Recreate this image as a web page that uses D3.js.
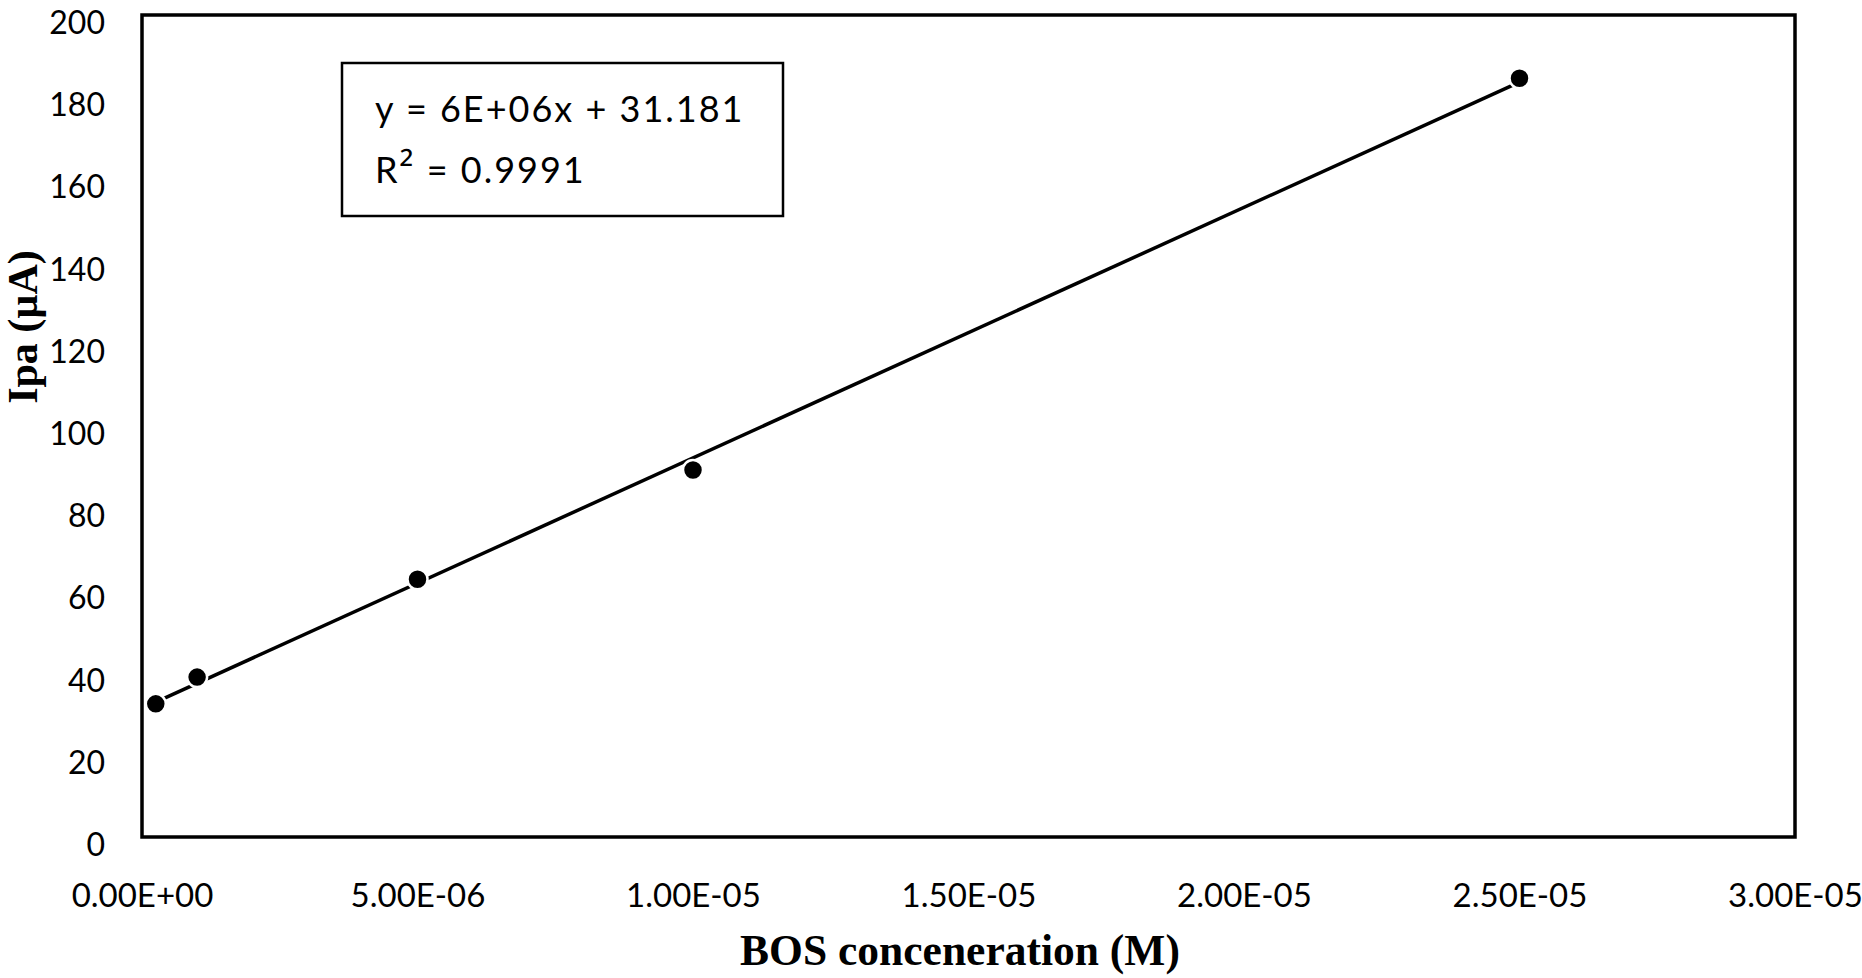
<!DOCTYPE html>
<html>
<head>
<meta charset="utf-8">
<script src="https://cdn.jsdelivr.net/npm/d3@7"></script>
<style>
  html, body { margin: 0; padding: 0; background: #fff; }
  svg { display: block; }
</style>
</head>
<body>
<svg id="chart" width="1862" height="978"></svg>
<script>
// ---- data ----
const concentration = [2.5e-7, 1e-6, 5e-6, 1e-5, 2.5e-5];
const ipa = [32.4, 38.9, 62.7, 89.3, 184.6];
const xTicks = [0, 5e-6, 1e-5, 1.5e-5, 2e-5, 2.5e-5, 3e-5];
const xTickLabels = ["0.00E+00", "5.00E-06", "1.00E-05", "1.50E-05", "2.00E-05", "2.50E-05", "3.00E-05"];
const yTicks = [0, 20, 40, 60, 80, 100, 120, 140, 160, 180, 200];
const equationLines = ["y = 6E+06x + 31.181", "R² = 0.9991"];
const xTitle = "BOS conceneration (M)";
const yTitle = "Ipa (µA)";

(function () {
// ---- layout ----
const svg = d3.select("#chart");
const pL = 142, pR = 1795, pT = 15, pB = 837;
const x = d3.scaleLinear().domain([0, 3e-5]).range([pL, pR]);
const y = d3.scaleLinear().domain([0, 200]).range([pB, pT]);

const tickFont = "Lato, 'Open Sans', sans-serif";

// Y tick labels
const yAxis = d3.axisLeft(y).tickValues(yTicks).tickSize(0).tickPadding(0).tickFormat(d3.format("d"));
const gy = svg.append("g").attr("transform", `translate(105,0)`).call(yAxis);
gy.select(".domain").remove();
gy.selectAll("text")
  .attr("font-family", tickFont).attr("font-size", 32).attr("fill", "#000")
  .attr("text-anchor", "end").attr("dy", "0.67em").attr("y", -3);

// X tick labels
const xAxis = d3.axisBottom(x).tickValues(xTicks).tickSize(0).tickPadding(0)
  .tickFormat((d, i) => xTickLabels[i]);
const gx = svg.append("g").attr("transform", `translate(0,907)`).call(xAxis);
gx.select(".domain").remove();
gx.selectAll("text")
  .attr("font-family", tickFont).attr("font-size", 33).attr("fill", "#000")
  .attr("dy", 0).attr("y", 0);

// Plot frame
svg.append("rect")
  .attr("x", pL).attr("y", pT).attr("width", pR - pL).attr("height", pB - pT)
  .attr("fill", "none").attr("stroke", "#000").attr("stroke-width", 3.5);

// Linear trendline (least squares fit of data)
const n = concentration.length;
const mx = d3.mean(concentration), my = d3.mean(ipa);
let sxy = 0, sxx = 0;
for (let i = 0; i < n; i++) {
  sxy += (concentration[i] - mx) * (ipa[i] - my);
  sxx += (concentration[i] - mx) ** 2;
}
const slope = sxy / sxx, intercept = my - slope * mx;
const xr = d3.extent(concentration);
svg.append("line")
  .attr("x1", x(xr[0])).attr("y1", y(slope * xr[0] + intercept))
  .attr("x2", x(xr[1])).attr("y2", y(slope * xr[1] + intercept))
  .attr("stroke", "#000").attr("stroke-width", 3.5);

// Markers
svg.append("g").selectAll("circle")
  .data(concentration.map((c, i) => [c, ipa[i]]))
  .join("circle")
  .attr("cx", d => x(d[0])).attr("cy", d => y(d[1]))
  .attr("r", 10).attr("fill", "#000").attr("stroke", "#fff").attr("stroke-width", 2.5);

// Equation box
svg.append("rect")
  .attr("x", 342).attr("y", 63).attr("width", 441).attr("height", 153)
  .attr("fill", "#fff").attr("stroke", "#000").attr("stroke-width", 2.5);
const eq = svg.append("g").selectAll("text")
  .data(equationLines).join("text")
  .attr("x", 375).attr("y", (d, i) => 122 + i * 61)
  .attr("font-family", tickFont).attr("font-size", 36).attr("letter-spacing", 2)
  .attr("fill", "#000");
eq.each(function (d) {
  const t = d3.select(this);
  const parts = d.split("²");
  if (parts.length === 1) { t.text(d); return; }
  t.append("tspan").text(parts[0]);
  t.append("tspan").attr("font-family", "'Open Sans', sans-serif").attr("font-size", 40).text("²");
  t.append("tspan").text(parts[1]);
});

// Axis titles
svg.append("text")
  .attr("x", 960).attr("y", 965)
  .attr("text-anchor", "middle")
  .attr("font-family", "'Liberation Serif', 'Times New Roman', serif")
  .attr("font-weight", "bold").attr("font-size", 43.5).attr("fill", "#000")
  .text(xTitle);
svg.append("text")
  .attr("transform", "translate(37,327) rotate(-90)")
  .attr("text-anchor", "middle")
  .attr("font-family", "'Liberation Serif', 'Times New Roman', serif")
  .attr("font-weight", "bold").attr("font-size", 42).attr("fill", "#000")
  .text(yTitle);
})();
</script>
</body>
</html>
